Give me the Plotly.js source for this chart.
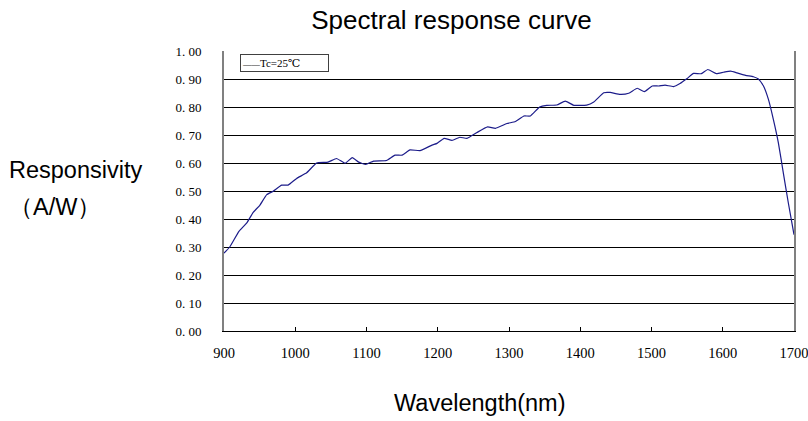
<!DOCTYPE html>
<html>
<head>
<meta charset="utf-8">
<script src="https://cdn.plot.ly/plotly-3.0.1.min.js"></script>
<style>html,body{margin:0;padding:0;background:#fff;}#chart{width:808px;height:421px;}</style>
</head>
<body>
<div id="chart"></div>
<script>
// Wavelength (nm)
const wavelength = [900, 908, 921, 932, 941, 950, 960, 969, 981, 990, 1002, 1016, 1030, 1046, 1058, 1070, 1080, 1089, 1099, 1110, 1128, 1140, 1150, 1161, 1175, 1192, 1199, 1209, 1220, 1231, 1241, 1255, 1270, 1281, 1297, 1309, 1321, 1330, 1343, 1353, 1367, 1379, 1391, 1409, 1419, 1433, 1442, 1456, 1468, 1480, 1490, 1501, 1510, 1519, 1531, 1540, 1550, 1559, 1570, 1579, 1591, 1601, 1611, 1620, 1632, 1643, 1650, 1657, 1664, 1671, 1678, 1685, 1692, 1700];
// Responsivity (A/W)
const responsivity = [0.278, 0.30, 0.356, 0.386, 0.424, 0.448, 0.487, 0.499, 0.521, 0.521, 0.545, 0.565, 0.600, 0.603, 0.616, 0.599, 0.619, 0.603, 0.595, 0.607, 0.609, 0.628, 0.628, 0.647, 0.644, 0.664, 0.670, 0.688, 0.681, 0.692, 0.688, 0.709, 0.729, 0.724, 0.741, 0.748, 0.768, 0.768, 0.800, 0.806, 0.807, 0.821, 0.806, 0.807, 0.818, 0.851, 0.852, 0.845, 0.849, 0.867, 0.855, 0.875, 0.875, 0.878, 0.873, 0.884, 0.902, 0.920, 0.919, 0.934, 0.919, 0.924, 0.928, 0.922, 0.913, 0.908, 0.900, 0.876, 0.828, 0.756, 0.673, 0.565, 0.458, 0.344];
const xTicks = [900, 1000, 1100, 1200, 1300, 1400, 1500, 1600, 1700];
const yTicks = [0, 0.1, 0.2, 0.3, 0.4, 0.5, 0.6, 0.7, 0.8, 0.9, 1.0];
const yTickText = ["0. 00", "0. 10", "0. 20", "0. 30", "0. 40", "0. 50", "0. 60", "0. 70", "0. 80", "0. 90", "1. 00"];
const seriesName = "Tc=25℃";

const serif = "'Liberation Serif', 'DejaVu Serif', serif";
const sans = "'Liberation Sans', Arial, sans-serif";

const trace = {
  x: wavelength, y: responsivity, type: "scatter", mode: "lines",
  name: seriesName, showlegend: false,
  line: {color: "#1c1c8a", width: 1.2, shape: "spline", smoothing: 0.4}
};

const layout = {
  width: 808, height: 421,
  margin: {l: 224, r: 14, t: 51, b: 90},
  paper_bgcolor: "#ffffff", plot_bgcolor: "#ffffff",
  showlegend: false,
  title: {
    text: "Spectral response curve",
    font: {family: sans, size: 26, color: "#000"},
    x: 0.399, xref: "paper", xanchor: "center",
    y: 0.953, yref: "container", yanchor: "middle"
  },
  xaxis: {
    range: [900, 1700], tickvals: xTicks, ticktext: xTicks.map(String),
    ticks: "inside", ticklen: 4, tickcolor: "#000", tickwidth: 1,
    showline: true, linecolor: "#000", linewidth: 1,
    showgrid: false, zeroline: false,
    tickfont: {family: serif, size: 14.5, color: "#000"},
    ticklabelstandoff: 9, ticklabeloverflow: "allow",
    fixedrange: true
  },
  yaxis: {
    range: [0, 1.0], tickvals: yTicks, ticktext: yTickText,
    ticks: "", showline: true, mirror: true, linecolor: "#808080", linewidth: 2,
    showgrid: true, gridcolor: "#000", gridwidth: 1, zeroline: false,
    tickfont: {family: serif, size: 13, color: "#000"},
    ticklabelstandoff: 18,
    fixedrange: true
  },
  annotations: [
    {text: "<span style='font-size:8.5px;color:#333'>——</span>" + seriesName,
     xref: "paper", yref: "paper", x: 0.028, y: 0.989, xanchor: "left", yanchor: "top",
     showarrow: false, align: "left", width: 85, height: 14,
     bgcolor: "#ffffff", bordercolor: "#404040", borderwidth: 1, borderpad: 1,
     font: {family: serif, size: 11, color: "#000"}},
    {text: "Responsivity", xref: "paper", yref: "paper", x: -0.2605, y: 0.575, xanchor: "center", yanchor: "middle", showarrow: false,
     font: {family: sans, size: 23.5, color: "#000"}},
    {text: "（A/W）", xref: "paper", yref: "paper", x: -0.2965, y: 0.443, xanchor: "center", yanchor: "middle", showarrow: false,
     font: {family: sans, size: 23.5, color: "#000"}},
    {text: "Wavelength(nm)", xref: "paper", yref: "paper", x: 0.449, y: -0.257, xanchor: "center", yanchor: "middle", showarrow: false,
     font: {family: sans, size: 23.5, color: "#000"}}
  ]
};

Plotly.newPlot("chart", [trace], layout, {displayModeBar: false, staticPlot: true});
</script>
</body>
</html>
